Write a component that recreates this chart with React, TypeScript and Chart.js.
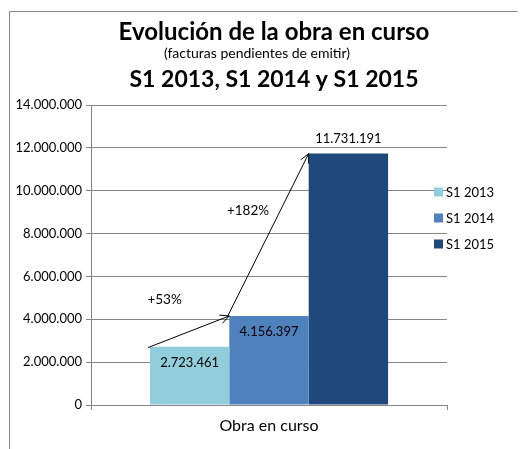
import React, { useEffect, useRef } from "react";
import { Chart, registerables } from "chart.js";

Chart.register(...registerables);

const categories = ["Obra en curso"];
const seriesNames = ["S1 2013", "S1 2014", "S1 2015"];
const seriesValues = [2723461, 4156397, 11731191];
const seriesColors = ["#92CDDC", "#4F81BD", "#1F497D"];
const changeLabels = ["+53%", "+182%"];
const yMin = 0;
const yMax = 14000000;
const yStep = 2000000;
const titleLine1 = "Evolución de la obra en curso";
const titleLine2 = "(facturas pendientes de emitir)";
const titleLine3 = "S1 2013, S1 2014 y S1 2015";

// style config (not data)
const labelInside = [true, true, false];
const changeLabelOffsets = [
  [-24, -32],
  [-20, -25],
];

const FONT = "Lato, 'Open Sans', 'DejaVu Sans', sans-serif";
const GRAY = "#868686";
const TEXT = "#000000";

const fmt = (n: number) =>
  String(Math.round(n)).replace(/\B(?=(\d{3})+(?!\d))/g, ".");

function drawArrow(ctx: CanvasRenderingContext2D, x1: number, y1: number, x2: number, y2: number) {
  ctx.save();
  ctx.strokeStyle = "#000";
  ctx.lineWidth = 1;
  ctx.beginPath();
  ctx.moveTo(x1, y1);
  ctx.lineTo(x2, y2);
  ctx.stroke();
  const ang = Math.atan2(y2 - y1, x2 - x1);
  const len = 10;
  const spread = 0.45;
  ctx.beginPath();
  ctx.moveTo(x2 - len * Math.cos(ang - spread), y2 - len * Math.sin(ang - spread));
  ctx.lineTo(x2, y2);
  ctx.lineTo(x2 - len * Math.cos(ang + spread), y2 - len * Math.sin(ang + spread));
  ctx.stroke();
  ctx.restore();
}

const decorPlugin = {
  id: "decor",
  beforeDraw(chart: any) {
    const ctx = chart.ctx as CanvasRenderingContext2D;
    ctx.save();
    ctx.fillStyle = "#fff";
    ctx.fillRect(0, 0, chart.width, chart.height);
    ctx.strokeStyle = GRAY;
    ctx.lineWidth = 1;
    ctx.beginPath();
    ctx.moveTo(9.5, chart.height);
    ctx.lineTo(9.5, 11.5);
    ctx.lineTo(517.5, 11.5);
    ctx.stroke();
    ctx.restore();
  },
  afterDatasetsDraw(chart: any) {
    const ctx = chart.ctx as CanvasRenderingContext2D;
    const bars: { left: number; top: number; x: number; w: number }[] = [];
    chart.data.datasets.forEach((_ds: any, i: number) => {
      const meta = chart.getDatasetMeta(i);
      const el = meta.data[0];
      bars.push({ left: el.x - el.width / 2, top: el.y, x: el.x, w: el.width });
    });
    // data labels
    ctx.save();
    ctx.font = `13px ${FONT}`;
    ctx.fillStyle = TEXT;
    ctx.textAlign = "center";
    ctx.textBaseline = "middle";
    bars.forEach((b, i) => {
      const y = labelInside[i] ? b.top + 16 : b.top - 15;
      ctx.fillText(fmt(seriesValues[i]), b.x, y);
    });
    ctx.restore();
    // arrows + change labels
    for (let i = 0; i < bars.length - 1; i++) {
      const x1 = bars[i].left - 2;
      const y1 = bars[i].top + 1;
      const x2 = bars[i + 1].left;
      const y2 = bars[i + 1].top;
      drawArrow(ctx, x1, y1, x2, y2);
      const mx = (x1 + x2) / 2 + changeLabelOffsets[i][0];
      const my = (y1 + y2) / 2 + changeLabelOffsets[i][1];
      ctx.save();
      ctx.font = `13.5px ${FONT}`;
      ctx.fillStyle = TEXT;
      ctx.textAlign = "center";
      ctx.textBaseline = "middle";
      ctx.fillText(changeLabels[i], mx, my);
      ctx.restore();
    }
  },
  afterDraw(chart: any) {
    const ctx = chart.ctx as CanvasRenderingContext2D;
    ctx.save();
    ctx.fillStyle = TEXT;
    ctx.textAlign = "center";
    ctx.textBaseline = "middle";
    ctx.font = `bold 24px ${FONT}`;
    ctx.fillText(titleLine1, 274, 32);
    ctx.font = `14px ${FONT}`;
    ctx.fillText(titleLine2, 257, 53);
    ctx.font = `bold 23px ${FONT}`;
    ctx.fillText(titleLine3, 274, 80);
    // legend
    const area = chart.chartArea;
    const lx = area.right - 13;
    const ly0 = area.top + 87;
    ctx.font = `13px ${FONT}`;
    ctx.textAlign = "left";
    seriesNames.forEach((name, i) => {
      const cy = ly0 + i * 26;
      ctx.fillStyle = seriesColors[i];
      ctx.fillRect(lx, cy - 4.5, 9, 9);
      ctx.fillStyle = TEXT;
      ctx.fillText(name, lx + 12, cy + 0.5);
    });
    ctx.restore();
  },
};

export default function App() {
  const ref = useRef<HTMLCanvasElement | null>(null);
  useEffect(() => {
    if (!ref.current) return;
    const chart = new Chart(ref.current, {
      type: "bar",
      data: {
        labels: categories,
        datasets: seriesNames.map((name, i) => ({
          label: name,
          data: [seriesValues[i]],
          backgroundColor: seriesColors[i],
          borderWidth: 0,
          categoryPercentage: 0.669,
          barPercentage: 1,
        })),
      },
      options: {
        animation: false,
        responsive: true,
        maintainAspectRatio: false,
        layout: { padding: { left: 0, right: 82, top: 105, bottom: 0 } },
        plugins: {
          legend: { display: false },
          title: { display: false },
          tooltip: { enabled: false },
        },
        scales: {
          x: {
            offset: true,
            grid: {
              offset: true,
              drawOnChartArea: false,
              drawTicks: true,
              tickLength: 5,
              color: GRAY,
            },
            border: { color: GRAY },
            ticks: {
              color: TEXT,
              font: { family: FONT, size: 16 },
              padding: 6,
            },
            afterFit: (s: any) => {
              s.height = 44;
            },
          },
          y: {
            min: yMin,
            max: yMax,
            grid: { color: GRAY, tickLength: 5 },
            border: { color: GRAY },
            ticks: {
              stepSize: yStep,
              color: TEXT,
              font: { family: FONT, size: 13 },
              padding: 4,
              callback: (v: any) => fmt(Number(v)),
            },
            afterFit: (s: any) => {
              s.width = 91;
            },
          },
        },
      },
      plugins: [decorPlugin],
    });
    return () => chart.destroy();
  }, []);
  return (
    <div style={{ position: "fixed", left: 0, top: 0, width: 529, height: 449, background: "#fff" }}>
      <canvas ref={ref} />
    </div>
  );
}
